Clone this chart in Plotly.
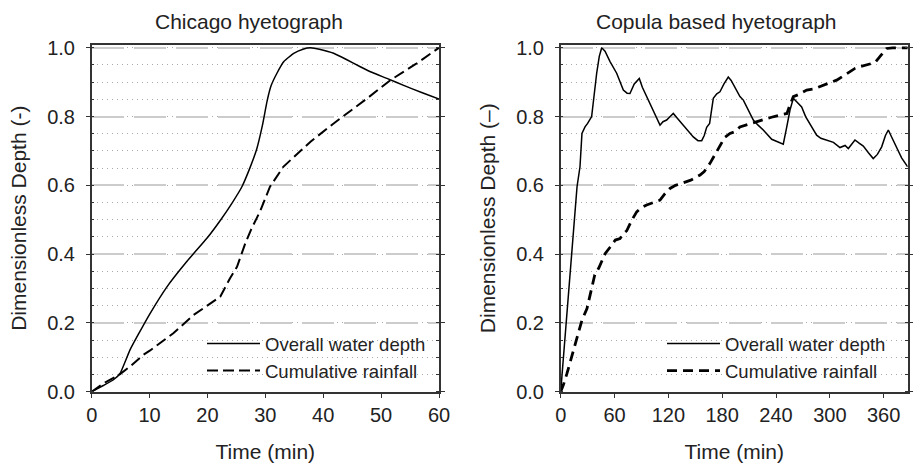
import plotly.graph_objects as go

# ---- Chicago hyetograph (left) ----
chi_depth_t = [0, 2, 3.7, 4.9, 6.6, 8, 10, 13, 16.5, 19.9, 22.3, 24.3, 25.95, 27.2, 28.5, 29.5,
               30.3, 31.0, 32.0, 33.2, 34.9, 36.5, 37.8, 39.5, 41.8, 44, 46.4, 48.5, 51, 54, 57, 60]
chi_depth_v = [0, 0.018, 0.034, 0.053, 0.121, 0.165, 0.225, 0.305, 0.38, 0.446, 0.5, 0.55, 0.596,
               0.645, 0.705, 0.775, 0.845, 0.89, 0.926, 0.960, 0.984, 0.996, 1.0, 0.995, 0.984, 0.966,
               0.945, 0.928, 0.911, 0.89, 0.87, 0.851]
chi_rain_t = [0, 2, 4.9, 6.6, 8.9, 10.1, 14.1, 17.6, 22.2, 23.9, 25.1, 26.5, 27.5, 29.1, 30.8,
              33.1, 37.8, 41.8, 47.6, 51.6, 56, 60]
chi_rain_v = [0, 0.024, 0.051, 0.073, 0.107, 0.12, 0.17, 0.223, 0.276, 0.33, 0.363, 0.43, 0.47,
              0.525, 0.596, 0.654, 0.727, 0.78, 0.853, 0.906, 0.953, 1.0]

# ---- Copula based hyetograph (right) ----
cop_depth_t = [0, 7, 14, 18.2, 21.5, 23.7, 27.1, 30, 34.5, 37, 40.1, 43, 45.7, 49.4, 55, 62.4, 66,
               69.8, 74, 77.2, 82, 87.6, 91, 95.8, 103, 110.7, 114, 118.1, 122, 125.5, 130, 135,
               140.4, 147.8, 153, 157.2, 160, 162.7, 166, 170.1, 174, 177.5, 182, 186.8, 190, 195,
               199.8, 203.6, 209, 214.7, 220, 225.8, 235.2, 241, 248.1, 252, 255.6, 259.3, 264,
               268.6, 273, 277.9, 285.3, 290, 296.5, 304, 311.3, 317, 320.6, 324, 328, 333, 337.3,
               343, 348.4, 353, 357.8, 362, 365.2, 369, 374.5, 380, 386.8]
cop_depth_v = [0, 0.22, 0.45, 0.596, 0.654, 0.751, 0.77, 0.78, 0.8, 0.86, 0.926, 0.975, 1.0, 0.99,
               0.96, 0.926, 0.9, 0.877, 0.868, 0.867, 0.895, 0.911, 0.885, 0.858, 0.815, 0.775,
               0.785, 0.79, 0.8, 0.809, 0.795, 0.78, 0.766, 0.741, 0.73, 0.73, 0.745, 0.769, 0.78,
               0.853, 0.866, 0.872, 0.895, 0.915, 0.905, 0.88, 0.858, 0.848, 0.82, 0.79, 0.775,
               0.761, 0.734, 0.727, 0.72, 0.77, 0.819, 0.853, 0.84, 0.828, 0.8, 0.78, 0.746, 0.737,
               0.732, 0.725, 0.71, 0.716, 0.707, 0.72, 0.732, 0.722, 0.714, 0.695, 0.678, 0.69,
               0.712, 0.745, 0.761, 0.74, 0.712, 0.68, 0.654]
cop_rain_t = [0, 3, 7, 12, 16.3, 20, 23.7, 29.3, 34.9, 38, 42.3, 49.7, 55, 60.9, 66.1, 70, 73.6,
              79.5, 84.7, 90, 95.8, 103, 110.7, 116, 121.8, 128, 136.7, 145, 155.3, 160, 166.4,
              172, 177.5, 183, 188.7, 195, 199.8, 207.3, 214, 222.1, 235, 248.1, 252.2, 255,
              259.3, 266, 274.2, 282, 289, 298, 307.6, 315, 322.4, 328, 333.6, 342, 350.3, 356,
              363.3, 370, 386.8]
cop_rain_v = [0, 0.02, 0.053, 0.1, 0.141, 0.18, 0.208, 0.242, 0.305, 0.34, 0.359, 0.402, 0.42,
              0.441, 0.445, 0.46, 0.468, 0.5, 0.523, 0.535, 0.543, 0.55, 0.557, 0.575, 0.591, 0.6,
              0.608, 0.615, 0.63, 0.64, 0.664, 0.69, 0.717, 0.74, 0.751, 0.757, 0.77, 0.776,
              0.782, 0.79, 0.798, 0.807, 0.809, 0.83, 0.858, 0.865, 0.877, 0.88, 0.887, 0.895,
              0.906, 0.918, 0.93, 0.94, 0.945, 0.95, 0.957, 0.975, 0.998, 1.0, 1.0]

titles = ["Chicago hyetograph", "Copula based hyetograph"]
ytitles = ["Dimensionless Depth (-)", "Dimensionless Depth (\u2013)"]
xtitle = "Time (min)"
legend_names = ["Overall water depth", "Cumulative rainfall"]

FONT = "Liberation Sans, Arial, sans-serif"
TXT = "#222222"
AX = "#333333"
TICK_FS = 20
TITLE_FS = 21
LEG_FS = 18.5

fig = go.Figure()
fig.add_trace(go.Scatter(x=chi_depth_t, y=chi_depth_v, mode="lines", name=legend_names[0],
                         line=dict(color="black", width=1.5, shape="spline", smoothing=0.4),
                         xaxis="x", yaxis="y", legend="legend"))
fig.add_trace(go.Scatter(x=chi_rain_t, y=chi_rain_v, mode="lines", name=legend_names[1],
                         line=dict(color="black", width=2, dash="11px,5px"), xaxis="x", yaxis="y",
                         legend="legend"))
fig.add_trace(go.Scatter(x=cop_depth_t, y=cop_depth_v, mode="lines", name=legend_names[0],
                         line=dict(color="black", width=1.5), xaxis="x2", yaxis="y2", legend="legend2"))
fig.add_trace(go.Scatter(x=cop_rain_t, y=cop_rain_v, mode="lines", name=legend_names[1],
                         line=dict(color="black", width=2.8, dash="10px,6px"), xaxis="x2", yaxis="y2",
                         legend="legend2"))

W, H = 917, 466
ydom = [(H - 391.7) / H, (H - 44.7) / H]
xdom1 = [91.7 / W, 439 / W]
xdom2 = [560.7 / W, 907.7 / W]


def xaxis(dom, rng, dtick, anchor):
    return dict(domain=dom, range=rng, dtick=dtick, tick0=0, anchor=anchor, automargin=False,
                showgrid=False, zeroline=False, showline=True, linecolor=AX, linewidth=1.5,
                mirror=True, ticks="outside", ticklen=5, tickcolor=AX, tickwidth=1.2,
                tickfont=dict(size=TICK_FS, color=TXT, family=FONT),
                title=dict(text=xtitle, font=dict(size=TITLE_FS, color=TXT, family=FONT), standoff=19))


def yaxis(dom, anchor, title):
    return dict(domain=dom, range=[0, 1.009], dtick=0.2, tick0=0, tickformat=".1f", anchor=anchor,
                automargin=False,
                showgrid=True, gridcolor="#cccccc", gridwidth=1.5, griddash="32px,10px",
                zeroline=False, showline=True, linecolor=AX, linewidth=1.5, mirror="ticks",
                ticks="outside", ticklen=4, tickcolor=AX, tickwidth=1.2,
                ticklabelstandoff=7,
                tickfont=dict(size=TICK_FS, color=TXT, family=FONT),
                minor=dict(dtick=0.05, tick0=0, showgrid=True, gridcolor="#aaaaaa", gridwidth=1,
                           griddash="1px,4px", ticks="inside", ticklen=3, tickcolor=AX, tickwidth=1.2),
                title=dict(text=title, font=dict(size=TITLE_FS, color=TXT, family=FONT), standoff=15))


fig.update_layout(
    template="none",
    width=W, height=H, margin=dict(l=0, r=0, t=0, b=0, pad=0),
    paper_bgcolor="white", plot_bgcolor="white",
    font=dict(family=FONT, color=TXT),
    xaxis=xaxis(xdom1, [0, 60], 10, "y"),
    yaxis=yaxis(ydom, "x", ytitles[0]),
    xaxis2=xaxis(xdom2, [0, 386.8], 60, "y2"),
    yaxis2=yaxis(ydom, "x2", ytitles[1]),
    legend=dict(x=202 / W, y=(H - 325) / H, xanchor="left", yanchor="top", itemwidth=53,
                bgcolor="rgba(0,0,0,0)", borderwidth=0,
                font=dict(size=LEG_FS, color=TXT, family=FONT)),
    legend2=dict(x=662 / W, y=(H - 325) / H, xanchor="left", yanchor="top", itemwidth=53,
                 bgcolor="rgba(0,0,0,0)", borderwidth=0,
                 font=dict(size=LEG_FS, color=TXT, family=FONT)),
    annotations=[
        dict(text=titles[0], x=249 / W, y=(H - 21) / H, xref="paper", yref="paper",
             xanchor="center", yanchor="middle", showarrow=False,
             font=dict(size=TITLE_FS, color=TXT, family=FONT)),
        dict(text=titles[1], x=716 / W, y=(H - 21) / H, xref="paper", yref="paper",
             xanchor="center", yanchor="middle", showarrow=False,
             font=dict(size=TITLE_FS, color=TXT, family=FONT)),
    ],
)

fig.write_html("out.html")
